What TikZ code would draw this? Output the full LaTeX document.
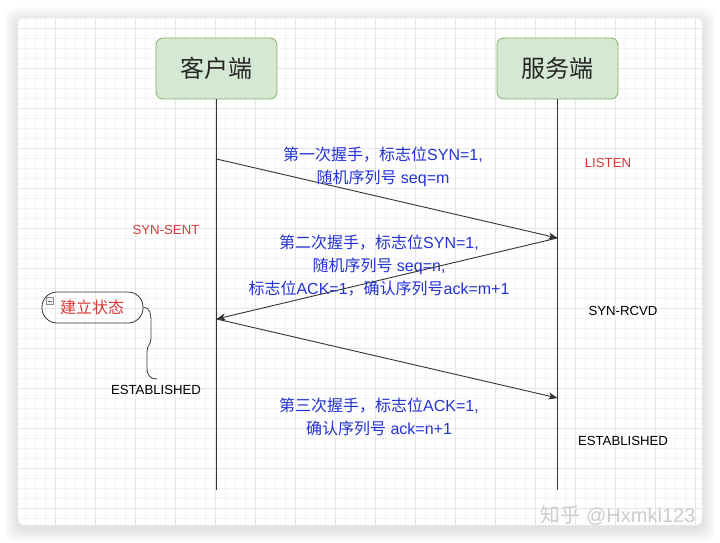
\documentclass[tikz,border=0pt]{standalone}
\usepackage{fontspec}
\setmainfont{Liberation Sans}
\newfontfamily\cjk{Noto Sans CJK SC}
\usetikzlibrary{arrows.meta,calc}
\newcommand\zh[1]{{\cjk #1}}
\definecolor{lblblue}{HTML}{2433D4}
\definecolor{lblred}{HTML}{D83A3A}
\definecolor{boxfill}{HTML}{D5E8D4}
\definecolor{boxline}{HTML}{82B366}
\definecolor{minorgrid}{HTML}{F3F3F3}
\definecolor{majorgrid}{HTML}{E6E6E6}
\definecolor{linegray}{HTML}{333333}
\tikzset{
  party/.style={draw=boxline, fill=boxfill, rounded corners=7pt, line width=0.8pt,
    minimum width=121pt, minimum height=61pt, font=\fontsize{24}{28}\selectfont\cjk, text=black!85},
  life/.style={draw=linegray, line width=0.9pt},
  msg/.style={draw=linegray, line width=0.9pt, -{Stealth[length=9pt,width=7pt,inset=2.5pt]}},
  msglabel/.style={text=lblblue, align=center, font=\fontsize{16}{23}\selectfont, inner sep=0pt},
  state/.style={font=\fontsize{13.2}{15}\selectfont, inner sep=0pt},
  tagbox/.style={draw=black!80, line width=0.8pt, rounded corners=15pt, minimum width=101pt,
    minimum height=31pt, inner sep=0pt},
}
\begin{document}
\begin{tikzpicture}[x=1pt,y=-1pt]
\useasboundingbox (0,0) rectangle (720,543);
\fill[white] (0,0) rectangle (720,543);
% shadow
\foreach \i in {1,...,14}
  \fill[black,opacity=0.009,rounded corners=10pt] (18-\i,18-\i+3) rectangle (702+\i,525+\i+4);
% card
\fill[white,rounded corners=6pt] (18,18) rectangle (702,525);
\begin{scope}
\clip[rounded corners=6pt] (18,18) rectangle (702,525);
\foreach \x in {5,15,...,705} \draw[minorgrid,line width=0.5pt] (\x,18) -- (\x,525);
\foreach \y in {8,18,...,528} \draw[minorgrid,line width=0.5pt] (18,\y) -- (702,\y);
\foreach \x in {15,55,...,695} \draw[majorgrid,line width=0.6pt] (\x,18) -- (\x,525);
\foreach \y in {28,68,...,508} \draw[majorgrid,line width=0.6pt] (18,\y) -- (702,\y);
\end{scope}

% parties
\node[party] (cl) at (216.5,68.5) {客户端};
\node[party] (sv) at (557.5,68.5) {服务端};
\coordinate (clend) at (216.5,490);
\coordinate (svend) at (557.5,490);
\draw[life] (cl.south) -- (clend);
\draw[life] (sv.south) -- (svend);

% message points
\coordinate (c1) at (216.5,159);
\coordinate (s1) at (557.5,238);
\coordinate (c2) at (216.5,319);
\coordinate (s2) at (557.5,398);
\draw[msg] (c1) -- (s1);
\draw[msg] (s1) -- (c2);
\draw[msg] (c2) -- (s2);

% message labels
\node[msglabel] (m1) at (383,167) {\zh{第一次握手，标志位}SYN=1,\\\zh{随机序列号} seq=m};
\node[msglabel] (m2) at (379,266) {\zh{第二次握手，标志位}SYN=1,\\\zh{随机序列号} seq=n,\\\zh{标志位}ACK=1\zh{，确认序列号}ack=m+1};
\node[msglabel] (m3) at (379,417) {\zh{第三次握手，标志位}ACK=1,\\\zh{确认序列号} ack=n+1};

% states
\node[state,text=lblred] (listen) at (608,163) {LISTEN};
\node[state,text=lblred] (synsent) at (166,230) {SYN-SENT};
\node[state] (synrcvd) at (623,311) {SYN-RCVD};
\node[state] (estc) at (156,390) {ESTABLISHED};
\node[state] (ests) at (623,441) {ESTABLISHED};

% tag
\node[tagbox] (tag) at (92.5,307.5) {};
\node[text=lblred, font=\fontsize{16}{18}\selectfont\cjk, inner sep=0pt] (tagtext) at (92,307) {建立状态};
\node[draw=black!45, fill=black!5, line width=0.5pt, minimum size=7pt, inner sep=0pt] (minus) at (50,301) {};
\draw[black!60, line width=0.6pt] ($(minus.west)+(1.5,0)$) -- ($(minus.east)+(-1.5,0)$);
\coordinate (bracend) at (157,379);
\draw[black!75, line width=0.8pt] (tag.east) .. controls +(7,0) and +(0,-8) .. (151,322) -- (151,338)
  .. controls +(0,7) and +(0,-7) .. (147,352) -- (147,368) .. controls +(0,8) and +(-6,0) .. (bracend);

% watermark
\node[text=black!20, font=\fontsize{20}{22}\selectfont, inner sep=0pt] (wm) at (618,515) {\zh{知乎} @Hxmkl123};
\end{tikzpicture}
\end{document}
